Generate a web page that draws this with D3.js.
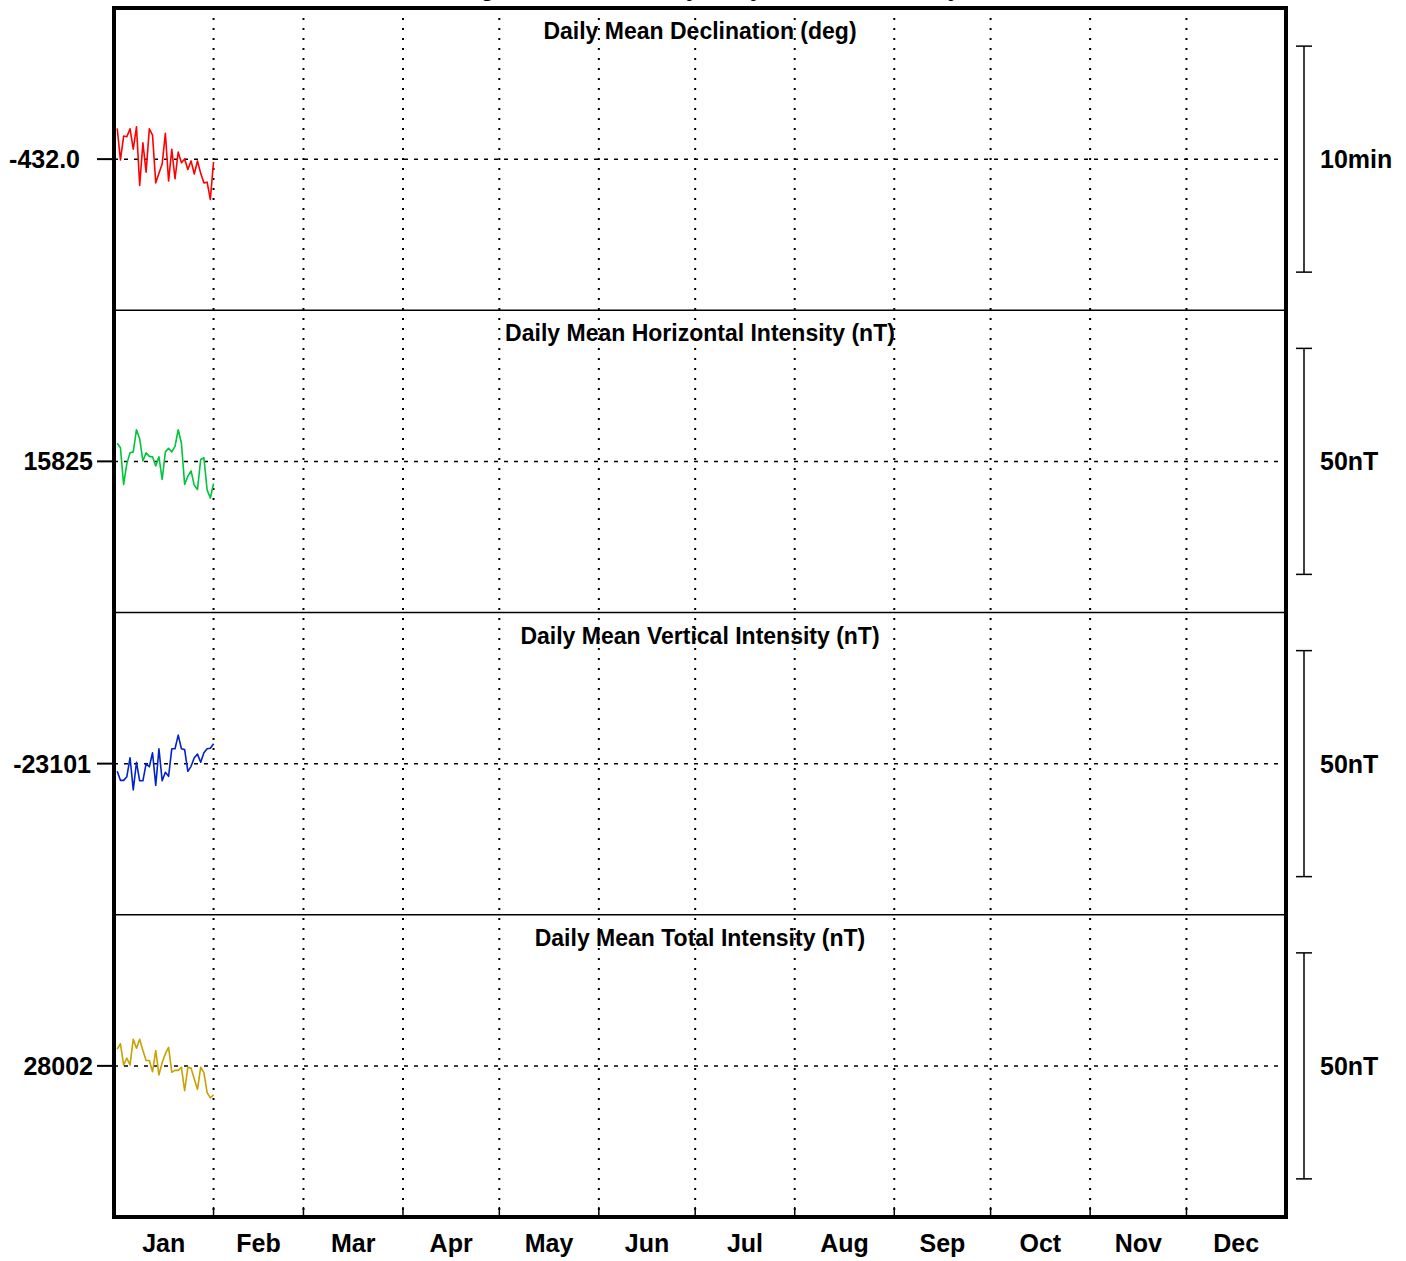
<!DOCTYPE html>
<html>
<head>
<meta charset="utf-8">
<script src="https://cdn.jsdelivr.net/npm/d3@7"></script>
<style>
  body { margin: 0; background: #fff; }
  text { font-family: "Liberation Sans", Arial, sans-serif; font-weight: bold; fill: #000; }
</style>
</head>
<body>
<div id="chart"></div>
<script>
// ---- data ----
const months = ["Jan","Feb","Mar","Apr","May","Jun","Jul","Aug","Sep","Oct","Nov","Dec"];
const days = d3.range(1, 32);   // January, one mean per day

const panelTitles = [
  "Daily Mean Declination (deg)",
  "Daily Mean Horizontal Intensity (nT)",
  "Daily Mean Vertical Intensity (nT)",
  "Daily Mean Total Intensity (nT)"
];
const baselines = [-432.0, 15825, -23101, 28002];
const baselineLabels = ["-432.0", "15825", "-23101", "28002"];
const scaleSpans = [10, 50, 50, 50];
const scaleLabels = ["10min", "50nT", "50nT", "50nT"];
const colors = ["#ff0000", "#00c43c", "#0022cc", "#c8a000"];

const declination = [
  -430.64, -432.04, -430.98, -431.01, -430.66, -431.56, -430.57, -433.16, -431.28, -432.58,
  -430.66, -430.94, -433.05, -432.63, -432.22, -430.86, -432.97, -431.57, -432.87, -431.69,
  -432.16, -431.99, -432.46, -432.08, -432.66, -432.08, -432.63, -433.05, -433.02, -433.78,
  -432.12
];
const horizontal = [
  15829.0, 15828.0, 15819.9, 15824.5, 15826.9, 15827.1, 15832.0, 15830.0, 15825.1, 15826.9,
  15826.1, 15826.0, 15824.0, 15826.0, 15821.0, 15827.1, 15827.9, 15827.1, 15828.3, 15832.0,
  15829.0, 15819.9, 15821.7, 15822.9, 15819.7, 15818.8, 15825.4, 15825.8, 15818.7, 15816.9,
  15820.1
];
const vertical = [
  -23102.7, -23104.7, -23104.7, -23103.9, -23099.7, -23106.8, -23100.7, -23104.8, -23104.8, -23101.0,
  -23101.7, -23098.6, -23105.8, -23097.7, -23104.8, -23102.9, -23103.8, -23097.7, -23097.7, -23094.7,
  -23097.7, -23097.9, -23102.7, -23101.6, -23099.7, -23098.9, -23100.7, -23098.6, -23097.7, -23097.6,
  -23096.6
];
const total = [
  28005.7, 28006.9, 28002.2, 28003.7, 28002.2, 28007.9, 28005.9, 28007.9, 28005.4, 28003.2,
  28003.2, 28000.7, 28005.4, 28000.0, 28002.7, 28004.7, 28006.1, 28000.6, 28001.0, 28001.0,
  28001.7, 27996.5, 28001.7, 28001.5, 27999.1, 27996.8, 28001.7, 28000.5, 27996.1, 27994.9,
  27995.6
];
const series = [declination, horizontal, vertical, total];

// ---- layout ----
const width = 1406, height = 1261;
const plot = { left: 114, right: 1286, top: 8, bottom: 1217 };
const panelH = (plot.bottom - plot.top) / 4;
const barHalf = 113;                 // half of the scale bar, px
const labelRight = [80, 93, 91, 93]; // right edge of the left value labels

const svg = d3.select("#chart").append("svg")
  .attr("width", width)
  .attr("height", height);

// title sits above the page edge, only its descenders show (as in the source)
svg.append("text")
  .attr("x", 680)
  .attr("y", -4)
  .attr("text-anchor", "middle")
  .attr("font-size", 24)
  .text("Geomagnetic Observatory Daily Means Summary");

const x = d3.scaleTime()
  .domain([new Date(2023, 0, 1), new Date(2024, 0, 1)])
  .range([plot.left, plot.right]);

const monthStarts = months.map((m, i) => new Date(2023, i, 1));
const monthMids = months.map((m, i) => new Date((+new Date(2023, i, 1) + +new Date(2023, i + 1, 1)) / 2));

// vertical month grid (dotted)
svg.append("g")
  .selectAll("line")
  .data(monthStarts.slice(1))
  .enter()
  .append("line")
  .attr("x1", d => x(d)).attr("x2", d => x(d))
  .attr("y1", plot.top).attr("y2", plot.bottom)
  .attr("stroke", "#000")
  .attr("stroke-width", 2)
  .attr("stroke-dasharray", "2,8");

// small solid ticks on bottom axis
svg.append("g")
  .selectAll("line")
  .data(monthStarts.slice(1))
  .enter()
  .append("line")
  .attr("x1", d => x(d)).attr("x2", d => x(d))
  .attr("y1", plot.bottom - 10).attr("y2", plot.bottom)
  .attr("stroke", "#000")
  .attr("stroke-width", 1.5);

// month labels
svg.append("g")
  .selectAll("text")
  .data(months)
  .enter()
  .append("text")
  .attr("x", (d, i) => x(monthMids[i]))
  .attr("y", 1252)
  .attr("text-anchor", "middle")
  .attr("font-size", 25)
  .text(d => d);

series.forEach((vals, i) => {
  const top = plot.top + i * panelH;
  const cy = top + panelH / 2;

  const y = d3.scaleLinear()
    .domain([baselines[i] - scaleSpans[i] / 2, baselines[i] + scaleSpans[i] / 2])
    .range([cy + barHalf, cy - barHalf]);

  const g = svg.append("g").attr("class", "panel");

  // baseline dotted line
  g.append("line")
    .attr("x1", plot.left).attr("x2", plot.right)
    .attr("y1", y(baselines[i])).attr("y2", y(baselines[i]))
    .attr("stroke", "#000")
    .attr("stroke-width", 1.5)
    .attr("stroke-dasharray", "4,6");

  // left tick + label
  g.append("line")
    .attr("x1", 97).attr("x2", plot.left)
    .attr("y1", y(baselines[i])).attr("y2", y(baselines[i]))
    .attr("stroke", "#000")
    .attr("stroke-width", 2);

  g.append("text")
    .attr("x", labelRight[i])
    .attr("y", y(baselines[i]) + 9)
    .attr("text-anchor", "end")
    .attr("font-size", 25)
    .text(baselineLabels[i]);

  // panel title
  g.append("text")
    .attr("x", (plot.left + plot.right) / 2)
    .attr("y", top + 31)
    .attr("text-anchor", "middle")
    .attr("font-size", 23)
    .text(panelTitles[i]);

  // data line
  const line = d3.line()
    .x((d, j) => x(new Date(2023, 0, days[j] + 1)))
    .y(d => y(d));

  g.append("path")
    .datum(vals)
    .attr("d", line)
    .attr("fill", "none")
    .attr("stroke", colors[i])
    .attr("stroke-width", 1.6)
    .attr("stroke-linejoin", "round");

  // scale bar on the right
  const yTop = y(baselines[i] + scaleSpans[i] / 2);
  const yBot = y(baselines[i] - scaleSpans[i] / 2);
  const bx = 1304;
  g.append("line")
    .attr("x1", bx).attr("x2", bx).attr("y1", yTop).attr("y2", yBot)
    .attr("stroke", "#000").attr("stroke-width", 1.5);
  [yTop, yBot].forEach(yy => {
    g.append("line")
      .attr("x1", bx - 8).attr("x2", bx + 8).attr("y1", yy).attr("y2", yy)
      .attr("stroke", "#000").attr("stroke-width", 1.5);
  });
  g.append("text")
    .attr("x", 1320)
    .attr("y", y(baselines[i]) + 9)
    .attr("font-size", 25)
    .text(scaleLabels[i]);

  // separator below panel
  if (i < 3) {
    svg.append("line")
      .attr("x1", plot.left).attr("x2", plot.right)
      .attr("y1", top + panelH).attr("y2", top + panelH)
      .attr("stroke", "#000")
      .attr("stroke-width", 1.5);
  }
});

// outer frame
svg.append("rect")
  .attr("x", plot.left)
  .attr("y", plot.top)
  .attr("width", plot.right - plot.left)
  .attr("height", plot.bottom - plot.top)
  .attr("fill", "none")
  .attr("stroke", "#000")
  .attr("stroke-width", 4);
</script>
</body>
</html>
